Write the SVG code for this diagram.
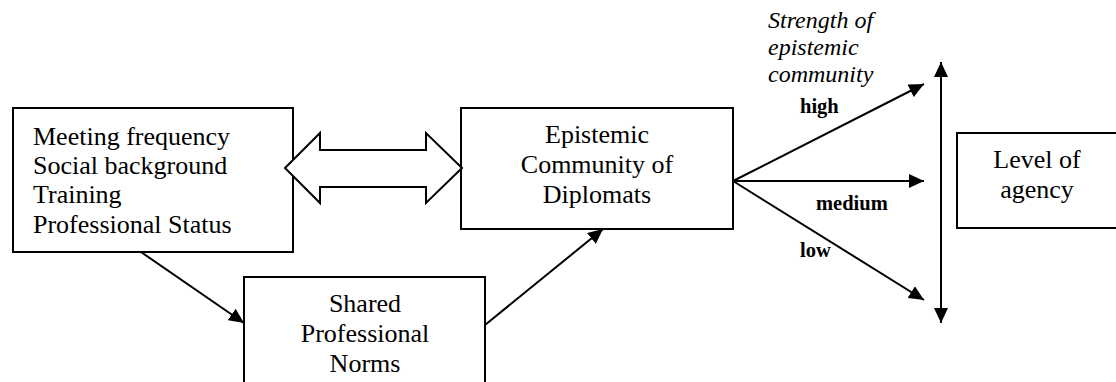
<svg xmlns="http://www.w3.org/2000/svg" width="1116" height="382" viewBox="0 0 1116 382">
<style>
.box{fill:#fff;stroke:#000;stroke-width:2}
text{font-family:'Liberation Serif',Tinos,'Times New Roman',Times,'DejaVu Serif',serif;fill:#000}
.t{font-size:26px}
.c{text-anchor:middle}
.b{font-size:20.5px;font-weight:bold}
.i{font-size:24px;font-style:italic}
.ln{stroke:#000;stroke-width:2;fill:none}
</style>
<defs>
<marker id="ah" markerUnits="userSpaceOnUse" markerWidth="16" markerHeight="14" refX="15" refY="7" orient="auto">
<path d="M0,0 L15,7 L0,14 Z" fill="#000"/>
</marker>
<marker id="ahs" markerUnits="userSpaceOnUse" markerWidth="16" markerHeight="14" refX="15" refY="7" orient="auto-start-reverse">
<path d="M0,0 L15,7 L0,14 Z" fill="#000"/>
</marker>
</defs>
<rect width="1116" height="382" fill="#fff"/>
<g id="factors">
<rect class="box" x="13" y="108" width="280" height="144"/>
<text class="t" x="33" y="145">Meeting frequency</text>
<text class="t" x="33" y="174">Social background</text>
<text class="t" x="33" y="203">Training</text>
<text class="t" x="33" y="233">Professional Status</text>
</g>
<g id="epistemic">
<rect class="box" x="461" y="108" width="272" height="121"/>
<text class="t c" x="597" y="143">Epistemic</text>
<text class="t c" x="597" y="173">Community of</text>
<text class="t c" x="597" y="203">Diplomats</text>
</g>
<g id="norms">
<rect class="box" x="244" y="277" width="241" height="115"/>
<text class="t c" x="365" y="312">Shared</text>
<text class="t c" x="365" y="342">Professional</text>
<text class="t c" x="365" y="372">Norms</text>
</g>
<g id="agency">
<rect class="box" x="957" y="133" width="170" height="95"/>
<text class="t c" x="1037" y="168">Level of</text>
<text class="t c" x="1037" y="198">agency</text>
</g>
<g id="labels">
<text class="i" x="768" y="28">Strength of</text>
<text class="i" x="768" y="55">epistemic</text>
<text class="i" x="768" y="82">community</text>
<text class="b" x="800" y="113">high</text>
<text class="b" x="816" y="210">medium</text>
<text class="b" x="800" y="257">low</text>
</g>
<g id="connectors">
<polygon points="285,168 320,133 320,150 426,150 426,133 462,168 426,203 426,187 320,187 320,203" fill="#fff" stroke="#000" stroke-width="2" stroke-linejoin="miter"/>
<line class="ln" x1="141" y1="252" x2="244" y2="323" marker-end="url(#ah)"/>
<line class="ln" x1="485" y1="325" x2="603" y2="229" marker-end="url(#ah)"/>
<line class="ln" x1="733" y1="181" x2="924" y2="84" marker-end="url(#ah)"/>
<line class="ln" x1="733" y1="181" x2="924" y2="181" marker-end="url(#ah)"/>
<line class="ln" x1="733" y1="181" x2="924" y2="300" marker-end="url(#ah)"/>
<line class="ln" x1="941" y1="62" x2="941" y2="323" marker-start="url(#ahs)" marker-end="url(#ahs)"/>
</g>
</svg>
